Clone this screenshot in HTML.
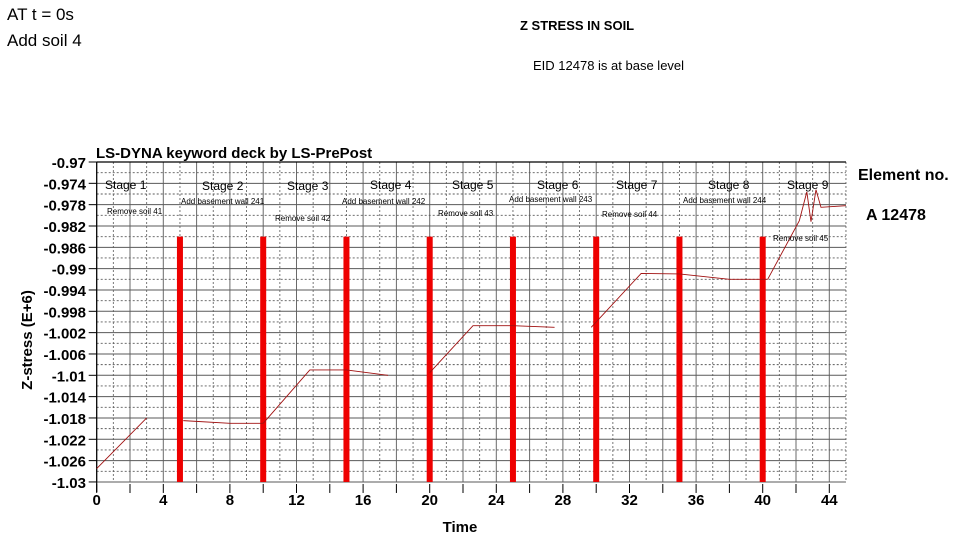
<!DOCTYPE html>
<html><head><meta charset="utf-8"><style>
body{margin:0;width:960px;height:540px;background:#fff;overflow:hidden;font-family:"Liberation Sans",sans-serif}
svg{position:absolute;left:0;top:0}
</style></head><body>
<svg id="c" width="960" height="540"></svg>
<script>
const xTicks=[0,4,8,12,16,20,24,28,32,36,40,44];
const yTicks=[-0.97,-0.974,-0.978,-0.982,-0.986,-0.99,-0.994,-0.998,-1.002,-1.006,-1.01,-1.014,-1.018,-1.022,-1.026,-1.03];
const yTickLabels=["-0.97","-0.974","-0.978","-0.982","-0.986","-0.99","-0.994","-0.998","-1.002","-1.006","-1.01","-1.014","-1.018","-1.022","-1.026","-1.03"];
const barTimes=[5,10,15,20,25,30,35,40];
const seg1T=[0,3];const seg1V=[-1.0275,-1.018];
const seg2T=[5.2,8,10];const seg2V=[-1.0185,-1.019,-1.019];
const seg3T=[10,12.8,15,17.5];const seg3V=[-1.019,-1.009,-1.009,-1.010];
const seg4T=[20,22.6,25,27.5];const seg4V=[-1.0095,-1.0007,-1.0007,-1.001];
const seg5T=[29.7,32.7,35,38,40.3];const seg5V=[-1.001,-0.9909,-0.991,-0.992,-0.992];
const seg6T=[40.3,42.2,42.65,42.9,43.2,43.5,45];const seg6V=[-0.992,-0.981,-0.9756,-0.9812,-0.9752,-0.9785,-0.9782];
const stages=["Stage 1","Stage 2","Stage 3","Stage 4","Stage 5","Stage 6","Stage 7","Stage 8","Stage 9"];
const X=t=>96.7+t*16.65, Y=v=>162+(-0.97-v)/0.004*21.33;
const s=document.getElementById('c');const NS="http://www.w3.org/2000/svg";
function mk(tag,at,parent){const e=document.createElementNS(NS,tag);for(const k in at)e.setAttribute(k,at[k]);(parent||s).appendChild(e);return e;}
function tx(x,y,str,size,w,anchor,name,extra){const e=mk('text',Object.assign({x:x,y:y,'font-size':size,'font-weight':w||'normal','text-anchor':anchor||'start','font-family':'"Liberation Sans",sans-serif'},extra||{}));e.textContent=str;

return e;}
for(let t=0;t<=45;t++){const l=mk('line',{x1:X(t),x2:X(t),y1:Y(-0.97),y2:Y(-1.03),stroke:'#6a6a6a','stroke-width':t%2==0?1:0.9,'stroke-dasharray':t%2==0?'':'2,2'});

}
for(let i=0;i<=30;i++){const v=-0.97-i*0.002;const l=mk('line',{x1:X(0),x2:X(45),y1:Y(v),y2:Y(v),stroke:'#5a5a5a','stroke-width':i%2==0?1:0.9,'stroke-dasharray':i%2==0?'':'2,2'});

}
const ax=mk('path',{d:`M${X(0)},${Y(-0.97)}V${Y(-1.03)+10}M${X(0)},${Y(-0.97)}H${X(45)}`,stroke:'#000','stroke-width':1.2,fill:'none'});


for(let t=0;t<=44;t+=2){const l=mk('line',{x1:X(t),x2:X(t),y1:Y(-1.03)+2,y2:Y(-1.03)+11,stroke:'#000','stroke-width':1});

}
xTicks.forEach(t=>tx(X(t),505,String(t),15,'bold','middle','x-tick-label'));
yTicks.forEach((v,i)=>{tx(86,Y(v)+6,yTickLabels[i],15,'bold','end','y-tick-label');
const l=mk('line',{x1:X(0)-8,x2:X(0),y1:Y(v),y2:Y(v),stroke:'#000'});

});
barTimes.forEach(t=>{const r=mk('rect',{x:X(t)-3,y:Y(-0.984),width:6,height:Y(-1.03)-Y(-0.984),fill:'#ee0000'});

});
[[seg1T,seg1V],[seg2T,seg2V],[seg3T,seg3V],[seg4T,seg4V],[seg5T,seg5V],[seg6T,seg6V]].forEach(([T,V])=>{
const p=mk('polyline',{points:T.map((t,i)=>X(t)+','+Y(V[i])).join(' '),fill:'none',stroke:'#a01010','stroke-width':0.9});

});
tx(96,158,"LS-DYNA keyword deck by LS-PrePost",15,'bold','start','chart-title');
tx(858,180,"Element no.",16,'bold','start','legend-title');
tx(866,220,"A  12478",16,'bold','start','legend-entry');
tx(460,532,"Time",15,'bold','middle','x-axis-title');
tx(32,340,"Z-stress (E+6)",15,'bold','middle','y-axis-title',{transform:'rotate(-90 32 340)'});
tx(7,20,"AT t = 0s",17,'normal','start','note-time');
tx(7,46,"Add soil 4",17,'normal','start','note-add-soil');
tx(520,30,"Z STRESS IN SOIL",13,'bold','start','heading');
tx(533,70,"EID 12478 is at base level",13,'normal','start','subheading');
const sx=[105,202,287,370,452,537,616,708,787],sy=[189,190,190,189,189,189,189,189,189];
stages.forEach((st,i)=>tx(sx[i],sy[i],st,12,'normal','start','stage-label'));
const notes=[["Remove soil 41",107,214],["Add basement wall 241",181,204],["Remove soil 42",275,221],["Add basement wall 242",342,204],["Remove soil 43",438,216],["Add basement wall 243",509,202],["Remove soil 44",602,217],["Add basement wall 244",683,203],["Remove soil 45",773,241]];
notes.forEach(n=>tx(n[1],n[2],n[0],8,'normal','start','stage-annotation'));
</script>
</body></html>
